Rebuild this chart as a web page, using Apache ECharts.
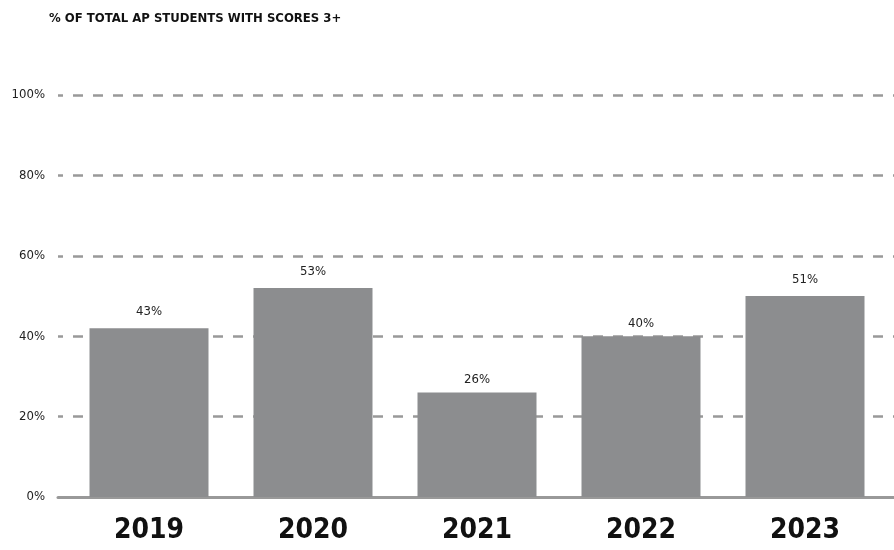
<!DOCTYPE html>
<html>
<head>
<meta charset="utf-8">
<script src="https://cdn.jsdelivr.net/npm/echarts@6/dist/echarts.min.js"></script>
<style>html,body{margin:0;padding:0;background:#fff;}#c{width:894px;height:550px;}</style>
</head>
<body>
<div id="c"></div>
<script>
const title = '% OF TOTAL AP STUDENTS WITH SCORES 3+';
const years = ['2019', '2020', '2021', '2022', '2023'];
const barValues = [42, 52, 26, 40, 50];
const labelValues = [43, 53, 26, 40, 51];
const yTicks = [0, 20, 40, 60, 80, 100];

const FONT = '"DejaVu Sans Condensed", "Liberation Sans Narrow", sans-serif';
const chart = echarts.init(document.getElementById('c'));
chart.setOption({
  animation: false,
  backgroundColor: '#fff',
  title: {
    text: title, left: 44, top: 7,
    textStyle: { fontFamily: FONT, fontWeight: 'bold', fontSize: 13, color: '#111' }
  },
  grid: [
    { left: 58, right: 0, top: 95, bottom: 53 },
    { left: 67, right: 7, top: 95, bottom: 53 }
  ],
  xAxis: [
    { type: 'category', gridIndex: 0, data: years, show: true,
      axisLine: { show: true, lineStyle: { color: '#999', width: 3 } },
      axisTick: { show: false }, axisLabel: { show: false }, splitLine: { show: false } },
    { type: 'category', gridIndex: 1, data: years,
      axisLine: { show: false }, axisTick: { show: false },
      axisLabel: { margin: 20, fontFamily: FONT, fontWeight: 'bold', fontSize: 28, color: '#111' } }
  ],
  yAxis: [
    { type: 'value', gridIndex: 0, min: yTicks[0], max: yTicks[yTicks.length - 1], interval: 20,
      axisLine: { show: false }, axisTick: { show: false },
      axisLabel: { margin: 13, fontFamily: FONT, fontSize: 13, color: '#222', padding: [0, 0, 10, 0],
        formatter: v => v + '%' },
      splitLine: { show: true, lineStyle: { color: '#999', width: 2.5, type: [10, 10], dashOffset: 5 } } },
    { type: 'value', gridIndex: 1, min: yTicks[0], max: yTicks[yTicks.length - 1], interval: 20,
      show: false, splitLine: { show: false } }
  ],
  series: [
    { type: 'bar', xAxisIndex: 1, yAxisIndex: 1, data: barValues, barWidth: 119,
      itemStyle: { color: '#8c8d8f' }, z: 3 },
    { type: 'bar', xAxisIndex: 1, yAxisIndex: 1, data: labelValues, barWidth: 119, barGap: '-100%',
      itemStyle: { color: 'rgba(0,0,0,0)' }, silent: true, z: 4,
      label: { show: true, position: 'top', distance: 6, fontFamily: FONT, fontSize: 13, color: '#222',
        formatter: p => p.value + '%' } }
  ]
});
</script>
</body>
</html>
